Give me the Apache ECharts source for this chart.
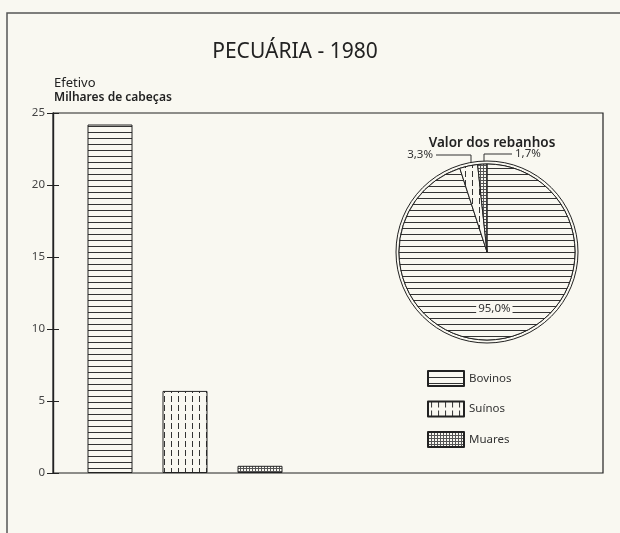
<!DOCTYPE html>
<html><head><meta charset="utf-8">
<script src="https://cdn.jsdelivr.net/npm/echarts@6/dist/echarts.min.js"></script>
<style>html,body{margin:0;padding:0;background:#f9f8f1}#c{width:620px;height:533px}</style>
</head><body><div id="c"></div>
<script>
const categories = ['Bovinos', 'Suínos', 'Muares'];
const efetivo = [24.2, 5.7, 0.5];          // milhares de cabeças
const valorPct = [95.0, 3.3, 1.7];         // % valor dos rebanhos
const yTicks = [0, 5, 10, 15, 20, 25];

const BG = '#f9f8f1', INK = '#333';
function pattern(kind) {
  const c = document.createElement('canvas');
  const ctx = c.getContext('2d');
  if (kind === 'h') { c.width = 6; c.height = 6; ctx.fillStyle = BG; ctx.fillRect(0,0,6,6); ctx.fillStyle = INK; ctx.fillRect(0,0,6,1); }
  else if (kind === 'v') { c.width = 7; c.height = 9; ctx.fillStyle = BG; ctx.fillRect(0,0,7,9); ctx.fillStyle = INK; ctx.fillRect(3,0,1,6); }
  else { c.width = 3; c.height = 3; ctx.fillStyle = BG; ctx.fillRect(0,0,3,3); ctx.fillStyle = '#555'; ctx.fillRect(0,0,3,1); ctx.fillRect(0,0,1,3); }
  return { image: c, repeat: 'repeat' };
}
const fills = [pattern('h'), pattern('v'), pattern('g')];
const fmt = v => v.toFixed(1).replace('.', ',') + '%';

const chart = echarts.init(document.getElementById('c'), null, { renderer: 'canvas' });
chart.setOption({
  animation: false,
  backgroundColor: BG,
  textStyle: { fontFamily: 'Noto Sans' },
  title: [
    { text: 'PECUÁRIA - 1980', left: 290, textAlign: 'center', top: 37, textStyle: { fontSize: 21, fontWeight: 'normal', color: '#222' } },
    { text: 'Efetivo', subtext: 'Milhares de cabeças', left: 49, top: 72, itemGap: 2,
      textStyle: { fontSize: 13, fontWeight: 'normal', color: '#222' },
      subtextStyle: { fontSize: 12, fontWeight: 600, color: '#222' } },
    { text: 'Valor dos rebanhos', left: 487, textAlign: 'center', top: 131, textStyle: { fontSize: 13.5, fontWeight: 600, color: '#222' } }
  ],
  graphic: [{ type: 'polyline', shape: { points: [[7, 545], [7, 13], [630, 13]] }, style: { stroke: '#555', lineWidth: 1.5, fill: null }, silent: true }],
  grid: [
    { left: 53, right: 17, top: 113, bottom: 60, show: true, borderColor: '#222', borderWidth: 1.2, backgroundColor: 'transparent' },
    { left: 72.5, width: 225, top: 113, bottom: 60 }
  ],
  xAxis: [
    { type: 'category', gridIndex: 0, show: false, data: [''] },
    { type: 'category', gridIndex: 1, show: false, data: categories }
  ],
  yAxis: [
    { type: 'value', gridIndex: 0, min: 0, max: 25, interval: 5,
      axisLine: { show: true, lineStyle: { color: '#222', width: 1.2 } },
      axisTick: { show: true, length: 6, lineStyle: { color: '#222' } },
      axisLabel: { color: '#444', fontSize: 11.5, margin: 8, formatter: v => yTicks.includes(v) ? String(v) : '' },
      splitLine: { show: false } },
    { type: 'value', gridIndex: 0, min: 0, max: 25, interval: 5, position: 'left', offset: 0,
      axisLine: { show: true, lineStyle: { color: '#222', width: 1.2 } }, axisLabel: { show: false }, splitLine: { show: false },
      axisTick: { show: true, inside: true, length: 6, lineStyle: { color: '#222' } } },
    { type: 'value', gridIndex: 1, min: 0, max: 25, show: false, splitLine: { show: false } }
  ],
  legend: {
    orient: 'vertical', left: 427, top: 370, padding: 0, itemWidth: 36, itemHeight: 15, itemGap: 13.5,
    icon: 'rect', data: categories, selectedMode: false,
    textStyle: { fontSize: 11.5, color: '#333' }
  },
  series: [
    { type: 'bar', xAxisIndex: 1, yAxisIndex: 2, barWidth: 45, silent: true,
      data: efetivo.map((v, i) => ({ value: v, itemStyle: { color: fills[i], borderColor: '#222', borderWidth: 1 } })) },
    { type: 'pie', name: 'ring', center: [487, 252], radius: [88, 91], silent: true,
      label: { show: false }, labelLine: { show: false }, emphasis: { disabled: true },
      itemStyle: { color: BG, borderColor: '#222', borderWidth: 1 },
      data: [{ value: 1, name: 'anel' }] },
    { type: 'pie', name: 'Valor dos rebanhos', center: [487, 252], radius: 88, startAngle: 90, clockwise: true,
      silent: true, emphasis: { disabled: true },
      itemStyle: { borderColor: '#222', borderWidth: 1 },
      label: { show: true, position: 'outside', fontSize: 11.5, color: '#333', formatter: p => fmt(p.value) },
      labelLine: { show: true, lineStyle: { color: '#333', width: 1 } },
      labelLayout: function (p) {
        if (p.dataIndex === 0) return { dy: 10 };
        if (p.dataIndex === 1) return { x: 433, y: 155, align: 'right', verticalAlign: 'middle', labelLinePoints: [[471, 163], [471, 155], [436, 155]] };
        return { x: 515, y: 154, align: 'left', verticalAlign: 'middle', labelLinePoints: [[484, 162], [484, 154], [512, 154]] };
      },
      data: categories.map((n, i) => i === 0
        ? { name: n, value: valorPct[i], itemStyle: { color: fills[i] }, label: { position: 'inside', backgroundColor: BG, padding: [0, 2] }, labelLine: { show: false } }
        : { name: n, value: valorPct[i], itemStyle: { color: fills[i] } })
    }
  ]
});
</script></body></html>
